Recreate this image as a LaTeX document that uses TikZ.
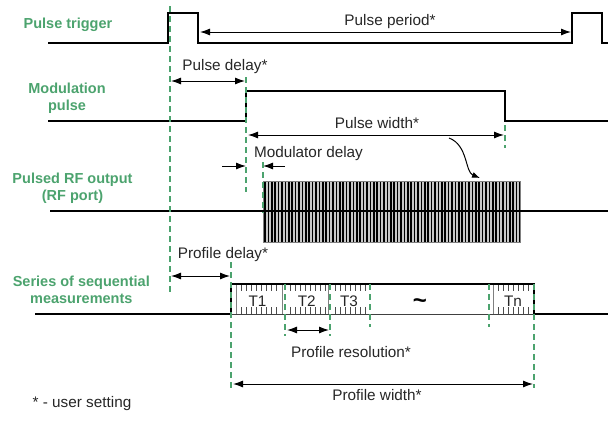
\documentclass[tikz,border=0pt]{standalone}
\usepackage{fontspec}
\setmainfont{Liberation Sans}
\usetikzlibrary{arrows.meta}
\definecolor{sigGreen}{RGB}{76,163,110}
\tikzset{
    sig/.style={line width=2.4pt},
    guide/.style={sigGreen,line width=2.6pt,dash pattern=on 6pt off 4pt},
    dim/.style={line width=1pt},
    tick/.style={black!70,line width=0.8pt},
    lbl/.style={align=center,text=sigGreen,font=\fontsize{14.5}{17}\selectfont\bfseries},
    txt/.style={anchor=base,text=black!85,font=\fontsize{15.3}{18}\selectfont}
}
\begin{document}
\begin{tikzpicture}[x=1pt,y=-1pt,>={Latex[length=10pt,width=7pt]}]
        \useasboundingbox (0,0) rectangle (608,421);
        \begin{scope}
            \node[lbl,anchor=base] (trigLbl) at (68,28) {Pulse trigger};
            \node[lbl] (modLbl) at (67,98.5) {Modulation\\pulse};
            \node[lbl] (rfLbl) at (72.5,188) {Pulsed RF output\\(RF port)};
            \node[lbl] (seqLbl) at (81.3,289.5) {Series of sequential\\measurements};
            \node[txt] (noteLbl) at (82,407) {* - user setting};
        \end{scope}
        \begin{scope}
            \draw[sig](48,43)--(168,43)--(168,13)--(198,13)--(198,43)--(572,43)--(572,13)--(602,13)--(602,43)--(608,43);
            \coordinate (perA) at (200,32);
            \coordinate (perB) at (571,32);
            \draw[dim,<->](perA)--(perB);
            \node[txt] (perLbl) at (390,25){Pulse period*};
        \end{scope}
        \begin{scope}
            \draw[sig](48,121)--(246,121)--(246,91)--(505,91)--(505,121)--(608,121);
            \coordinate (pdA) at (171,81);
            \coordinate (pdB) at (245,81);
            \draw[dim,<->](pdA)--(pdB);
            \node[txt] (pdLbl) at (225,70){Pulse delay*};
            \coordinate (pwA) at (248,135);
            \coordinate (pwB) at (504,135);
            \draw[dim,<->](pwA)--(pwB);
            \node[txt] (pwLbl) at (377,128){Pulse width*};
            \coordinate (cvA) at (449,138);
            \coordinate (cvB) at (480,178);
            \draw[dim,->,>={Latex[length=8pt,width=6pt]}](cvA) .. controls (468,145) and (465,172) .. (cvB);
        \end{scope}
        \begin{scope}
            \fill[black!22](263,181) rectangle (520,242);
            \foreach \i in {0,...,75}
                \draw[line width=1.6pt](265+\i*3.4,181)--(265+\i*3.4,242);
            \draw[black!50](263,181) rectangle (520,242);
            \draw[sig](50,211)--(608,211);
            \coordinate (mdA) at (222,166);
            \coordinate (mdB) at (246,166);
            \coordinate (mdC) at (285,166);
            \coordinate (mdD) at (263,166);
            \draw[dim,->](mdA)--(mdB);
            \draw[dim,->](mdC)--(mdD);
            \node[txt] (mdLbl) at (308.5,157){Modulator delay};
        \end{scope}
        \begin{scope}
            \foreach \x in {236,282,328,493}
                \draw[black!50,line width=0.8pt](\x,284)--(\x,314);
            \foreach \a/\n in {241/7,290/7,335/6,498/6}
                \foreach \k in {0,...,\n}{
                    \draw[tick](\a+5*\k,284)--(\a+5*\k,291);
                    \draw[tick](\a+5*\k,314)--(\a+5*\k,307);
                }
            \draw[black!75,line width=1pt](231,314)--(534,314);
            \draw[sig](35,314)--(231,314)--(231,284)--(534,284)--(534,314)--(608,314);
            \foreach \x/\t/\nm in {257.5/T1/tA,306.7/T2/tB,349/T3/tC,513/Tn/tN}
                \node[txt] (\nm) at (\x,306){\t};
            \node[font=\fontsize{24}{24}\selectfont\bfseries] (tDots) at (420,304){\textasciitilde};
            \coordinate (prdA) at (171,276);
            \coordinate (prdB) at (230,276);
            \draw[dim,<->](prdA)--(prdB);
            \node[txt] (prdLbl) at (223,258){Profile delay*};
            \coordinate (resA) at (287,330);
            \coordinate (resB) at (329,330);
            \draw[dim,<->](resA)--(resB);
            \node[txt] (resLbl) at (351,357){Profile resolution*};
            \coordinate (prwA) at (233,384);
            \coordinate (prwB) at (533,384);
            \draw[dim,<->](prwA)--(prwB);
            \node[txt] (prwLbl) at (377,400){Profile width*};
        \end{scope}
        \foreach \x/\ya/\yb in {170/6/295,246/77/192,505/125/148,263/162/213,231/262/388,285/284/336,330/284/336,370/284/327,489/284/327,534/284/388}
            \draw[guide](\x,\ya)--(\x,\yb);
    \end{tikzpicture}
\end{document}
